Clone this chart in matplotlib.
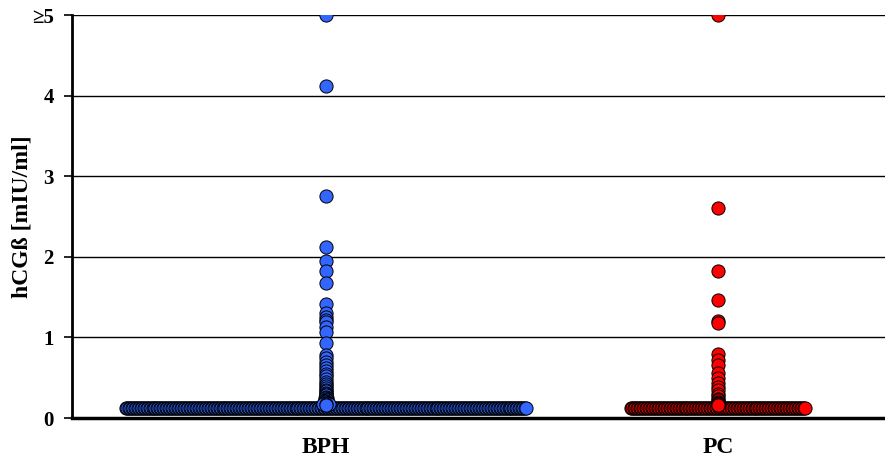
import matplotlib
matplotlib.use("Agg")
import matplotlib.pyplot as plt
import numpy as np

# data (hCGß in mIU/ml, values >=5 drawn at 5)
categories = ["BPH", "PC"]
bph_values = [5.0, 4.12, 2.75, 2.12, 1.95, 1.82, 1.68, 1.42, 1.30, 1.25, 1.22, 1.19,
              1.13, 1.07, 0.93, 0.78, 0.74, 0.70, 0.66, 0.62, 0.58, 0.55, 0.52, 0.48,
              0.45, 0.42, 0.40, 0.37, 0.35, 0.33, 0.31, 0.30, 0.28, 0.26, 0.25, 0.25,
              0.23, 0.22, 0.22, 0.21, 0.20, 0.20, 0.19, 0.18, 0.18, 0.18, 0.17, 0.16]
pc_values = [5.0, 2.60, 1.82, 1.46, 1.20, 1.18, 0.79, 0.72, 0.66, 0.56, 0.50, 0.43,
             0.38, 0.35, 0.30, 0.27, 0.24, 0.22, 0.20, 0.19, 0.18, 0.17, 0.16]
baseline_value = 0.13          # below detection limit
bph_baseline_n = 270
pc_baseline_n = 118
yticks = [0, 1, 2, 3, 4, 5]
ytick_labels = ["0", "1", "2", "3", "4", "≥5"]
colors = ["#3366ff", "#ff0000"]

plt.rcParams['font.family'] = ['Liberation Serif', 'DejaVu Serif']

fig = plt.figure(figsize=(8.85, 4.59), dpi=100)
ax = fig.add_axes([0.0814, 0.0893, 0.9186, 0.878])

step = 0.0038  # horizontal spacing of tied values


def spread(center, values):
    xs, ys = [], []
    vals = np.array(values)
    for v in np.unique(vals):
        n = int(np.sum(vals == v))
        offs = (np.arange(n) - (n - 1) / 2) * step * 1.8
        xs.extend(center + offs)
        ys.extend([v] * n)
    return np.array(xs), np.array(ys)


for i, (vals, nbase) in enumerate([(bph_values, bph_baseline_n), (pc_values, pc_baseline_n)]):
    center = i + 1
    bx = center + (np.arange(nbase) - (nbase - 1) / 2) * step
    ax.scatter(bx, [baseline_value] * nbase, s=90, c=colors[i],
               edgecolors="black", linewidths=0.7, zorder=3)
    x, y = spread(center, vals)
    order = np.argsort(-y)
    ax.scatter(x[order], y[order], s=90, c=colors[i],
               edgecolors="black", linewidths=0.7, zorder=4)

ax.set_xlim(0.352, 2.426)
ax.set_ylim(0, 5)
ax.set_yticks(yticks)
ax.set_yticklabels(ytick_labels, fontsize=15, fontweight="bold")
ax.set_xticks([1, 2])
ax.set_xticklabels(categories, fontsize=17, fontweight="bold")
ax.tick_params(axis="x", length=0, pad=14)
ax.tick_params(axis="y", length=6, width=1.2, pad=7)
ax.set_ylabel("hCGß [mIU/ml]", fontsize=17, fontweight="bold", va="center")
ax.yaxis.set_label_coords(-0.062, 0.5)

ax.yaxis.grid(True, color="black", linewidth=1)
ax.set_axisbelow(True)
ax.spines["right"].set_visible(False)
ax.spines["top"].set_visible(False)
ax.spines["left"].set_linewidth(2)
ax.spines["bottom"].set_linewidth(2.5)
for sp in ax.spines.values():
    sp.set_zorder(5)

fig.savefig("out.png", dpi=100)
